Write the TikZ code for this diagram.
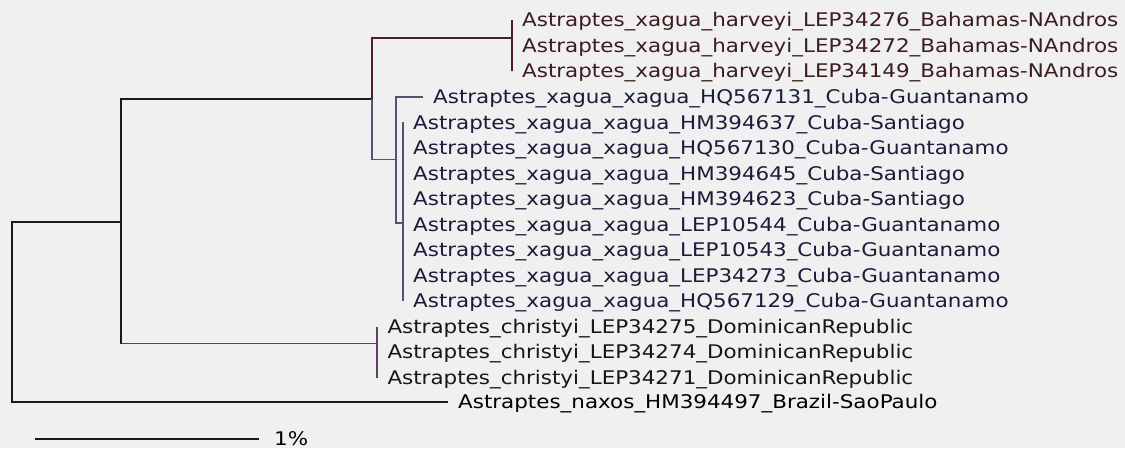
\documentclass[tikz,border=0pt]{standalone}
\usepackage{fontspec}
\newfontfamily\labfont[FakeStretch=1.14]{DejaVu Sans}
\begin{document}
\begin{tikzpicture}[x=1pt,y=-1pt,
  tip/.style={anchor=west, inner xsep=10pt, inner ysep=0pt, text height=13.2pt, text depth=0pt,
              font=\labfont\fontsize{18.8}{20}\selectfont},
  blk/.style={draw=black!90, line width=2pt},
  mar/.style={draw=maroonline, line width=1.9pt},
  sla/.style={draw=slateline, line width=1.9pt},
  pur/.style={draw=purpline, line width=1.9pt},
]
\definecolor{bgc}{RGB}{240,240,240}
\definecolor{maroonline}{RGB}{78,28,44}
\definecolor{slateline}{RGB}{84,84,112}
\definecolor{purpline}{RGB}{96,62,96}
\definecolor{maroontext}{RGB}{60,28,30}
\definecolor{navytext}{RGB}{28,28,58}
\definecolor{darktext}{RGB}{24,20,26}

\fill[bgc] (0,0) rectangle (1125,448);
\useasboundingbox (0,0) rectangle (1125,448);

% row centres: 20.2 + 25.55 i
% harveyi
\node[tip, text=maroontext] (h1) at (512, 20.2) {Astraptes\_xagua\_harveyi\_LEP34276\_Bahamas-NAndros};
\node[tip, text=maroontext] (h2) at (512, 45.75) {Astraptes\_xagua\_harveyi\_LEP34272\_Bahamas-NAndros};
\node[tip, text=maroontext] (h3) at (512, 71.3) {Astraptes\_xagua\_harveyi\_LEP34149\_Bahamas-NAndros};
% xagua xagua
\node[tip, text=navytext] (x1) at (423, 96.85) {Astraptes\_xagua\_xagua\_HQ567131\_Cuba-Guantanamo};
\node[tip, text=navytext] (x2) at (403, 122.4) {Astraptes\_xagua\_xagua\_HM394637\_Cuba-Santiago};
\node[tip, text=navytext] (x3) at (403, 147.95) {Astraptes\_xagua\_xagua\_HQ567130\_Cuba-Guantanamo};
\node[tip, text=navytext] (x4) at (403, 173.5) {Astraptes\_xagua\_xagua\_HM394645\_Cuba-Santiago};
\node[tip, text=navytext] (x5) at (403, 199.05) {Astraptes\_xagua\_xagua\_HM394623\_Cuba-Santiago};
\node[tip, text=navytext] (x6) at (403, 224.6) {Astraptes\_xagua\_xagua\_LEP10544\_Cuba-Guantanamo};
\node[tip, text=navytext] (x7) at (403, 250.15) {Astraptes\_xagua\_xagua\_LEP10543\_Cuba-Guantanamo};
\node[tip, text=navytext] (x8) at (403, 275.7) {Astraptes\_xagua\_xagua\_LEP34273\_Cuba-Guantanamo};
\node[tip, text=navytext] (x9) at (403, 301.25) {Astraptes\_xagua\_xagua\_HQ567129\_Cuba-Guantanamo};
% christyi
\node[tip, text=darktext] (c1) at (377.3, 326.8) {Astraptes\_christyi\_LEP34275\_DominicanRepublic};
\node[tip, text=darktext] (c2) at (377.3, 352.35) {Astraptes\_christyi\_LEP34274\_DominicanRepublic};
\node[tip, text=darktext] (c3) at (377.3, 377.9) {Astraptes\_christyi\_LEP34271\_DominicanRepublic};
% outgroup
\node[tip, text=black] (nx) at (448, 402) {Astraptes\_naxos\_HM394497\_Brazil-SaoPaulo};

% internal nodes
\coordinate (R)  at (12.3, 312);
\coordinate (I)  at (120.7, 222);
\coordinate (HX) at (372.3, 98.8);
\coordinate (HJ) at (512, 38.3);
\coordinate (XN) at (396.3, 159.5);
\coordinate (XJ) at (403, 223);
\coordinate (CJ) at (377.3, 343.5);

% branches
\draw[blk, line join=miter] (I) -- (I -| R) |- (nx.west);
\draw[blk, line join=miter] (HX) -| (I) -- (I |- CJ);
\draw[pur] (I |- CJ) -- (CJ);
\draw[pur] (c1.west) -- (c3.west);
\draw[mar, line join=miter] (HJ) -| (HX);
\draw[mar] (h1.west) -- (h3.west);
\draw[sla, line join=miter] (HX) |- (XN);
\draw[sla, line join=miter] (x1.west) -| (XN) |- (XJ);
\draw[sla] (x2.west) -- (x9.west);

% scale bar
\node[tip, text=black, inner xsep=15pt] (sc) at (259, 439) {1\%};
\coordinate (sb) at (35, 439);
\draw[blk] (sb) -- (sc.west);
\end{tikzpicture}
\end{document}
